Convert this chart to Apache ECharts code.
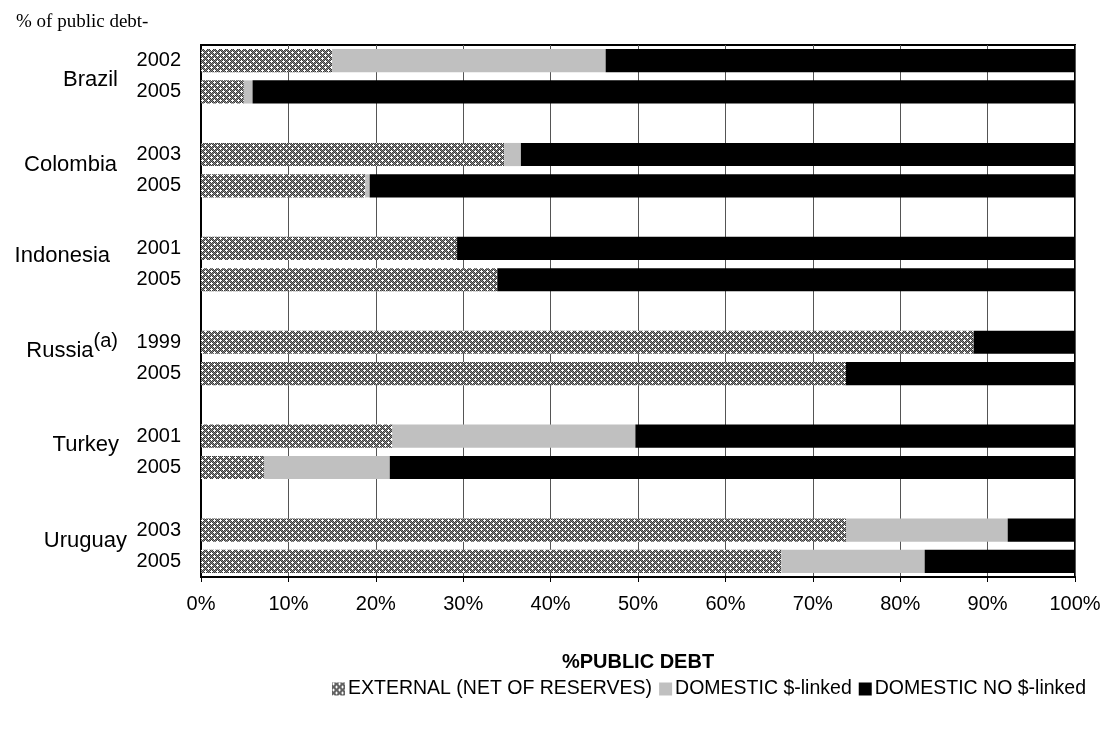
<!DOCTYPE html>
<html>
<head>
<meta charset="utf-8">
<script src="https://cdn.jsdelivr.net/npm/echarts@6/dist/echarts.min.js"></script>
<style>html,body{margin:0;padding:0;background:#fff}#c{width:1106px;height:729px}</style>
</head>
<body>
<div id="c"></div>
<script>
// ---- data ----
const countries = ['Brazil', 'Colombia', 'Indonesia', 'Russia', 'Turkey', 'Uruguay'];
const years = [['2002', '2005'], ['2003', '2005'], ['2001', '2005'], ['1999', '2005'], ['2001', '2005'], ['2003', '2005']];
const externalNet = [[15.0, 4.9], [34.7, 18.8], [29.3, 33.9], [88.4, 73.8], [21.9, 7.2], [73.8, 66.4]];
const domesticLinked = [[31.3, 1.0], [1.9, 0.5], [0, 0], [0, 0], [27.8, 14.4], [18.5, 16.4]];
const domesticNoLinked = [[53.7, 94.1], [63.4, 80.7], [70.7, 66.1], [11.6, 26.2], [50.3, 78.4], [7.7, 17.2]];
const xTickValues = [0, 10, 20, 30, 40, 50, 60, 70, 80, 90, 100];
const seriesNames = ['EXTERNAL (NET OF RESERVES)', 'DOMESTIC $-linked', 'DOMESTIC NO $-linked'];

// ---- build category rows (blank row between countries) ----
const cats = [], extData = [], linkData = [], noData = [], groupRows = [];
countries.forEach((c, i) => {
  if (i > 0) { cats.push('gap' + i); extData.push('-'); linkData.push('-'); noData.push('-'); }
  const rows = [];
  years[i].forEach((y, j) => {
    rows.push(cats.length);
    cats.push(c + '|' + y);
    extData.push(externalNet[i][j]);
    linkData.push(domesticLinked[i][j]);
    noData.push(domesticNoLinked[i][j]);
  });
  groupRows.push(rows);
});

// ---- hatched pattern for the external series ----
function makePattern() {
  const cv = document.createElement('canvas');
  cv.width = 6; cv.height = 6;
  const g = cv.getContext('2d');
  g.fillStyle = '#8a8a8a'; g.fillRect(0, 0, 6, 6);
  for (let y = 0; y < 6; y++) for (let x = 0; x < 6; x++) {
    if ((x + y) % 2 === 0) { g.fillStyle = '#3a3a3a'; g.fillRect(x, y, 1, 1); }
  }
  g.fillStyle = '#ffffff';
  [[1,1],[0,1],[2,1],[1,0],[1,2],[4,4],[3,4],[5,4],[4,3],[4,5]].forEach(p => g.fillRect(p[0], p[1], 1, 1));
  return cv;
}
const pattern = { image: makePattern(), repeat: 'repeat' };

const FONT = "'Liberation Sans', Arial, sans-serif";
const chart = echarts.init(document.getElementById('c'), null, { renderer: 'canvas' });
const option = {
  animation: false,
  backgroundColor: '#fff',
  title: {
    text: '% of public debt-', left: 11, top: 8,
    textStyle: { fontFamily: "'Liberation Serif', 'Times New Roman', serif", fontSize: 19, fontWeight: 'normal', color: '#000' }
  },
  grid: { left: 201, right: 31, top: 45, bottom: 152, show: true, borderColor: '#000', borderWidth: 2, containLabel: false },
  legend: {
    data: seriesNames, left: 332, top: 679, width: 1000, padding: 0, itemWidth: 13, itemHeight: 13, itemGap: 7,
    icon: 'rect',
    textStyle: { fontFamily: FONT, fontSize: 19.5, color: '#000', padding: [0, 0, 0, -2] }
  },
  xAxis: {
    type: 'value', min: 0, max: 100, interval: 10,
    name: '%PUBLIC DEBT', nameLocation: 'middle', nameGap: 75,
    nameTextStyle: { fontFamily: "'Liberation Sans Narrow', " + FONT, fontWeight: 'bold', fontSize: 20, color: '#000' },
    axisLine: { show: true, lineStyle: { color: '#000', width: 2 } },
    axisTick: { show: true, length: 5, lineStyle: { color: '#000' } },
    axisLabel: { formatter: v => xTickValues.includes(v) ? v + '%' : '', fontFamily: FONT, fontSize: 20, color: '#000', margin: 17 },
    splitLine: { show: true, lineStyle: { color: '#555', width: 1 } }
  },
  yAxis: {
    type: 'category', inverse: true, data: cats,
    axisLine: { show: true, lineStyle: { color: '#000', width: 2 } },
    axisTick: { show: false },
    axisLabel: { formatter: v => v.indexOf('|') >= 0 ? v.split('|')[1] : '', fontFamily: FONT, fontSize: 20, color: '#000', margin: 20 },
    splitLine: { show: false }
  },
  series: [
    { name: seriesNames[0], type: 'bar', stack: 'd', data: extData, barCategoryGap: '26%', itemStyle: { color: pattern } },
    { name: seriesNames[1], type: 'bar', stack: 'd', data: linkData, itemStyle: { color: '#c0c0c0' } },
    { name: seriesNames[2], type: 'bar', stack: 'd', data: noData, itemStyle: { color: '#000' } }
  ]
};
chart.setOption(option);

// country labels placed between their two rows
const labelRight = [118, 117, 110, 118, 119, 127];
const labelDy = [4, -5, -8, -7, -7, -5];
const graphics = countries.map((c, i) => {
  const y1 = chart.convertToPixel({ yAxisIndex: 0 }, cats[groupRows[i][0]]);
  const y2 = chart.convertToPixel({ yAxisIndex: 0 }, cats[groupRows[i][1]]);
  const isRussia = c === 'Russia';
  return {
    type: 'text',
    x: labelRight[i], y: (y1 + y2) / 2 + labelDy[i],
    style: {
      text: isRussia ? c + '{sup|(a)}' : c,
      fontFamily: FONT, fontSize: 22, fill: '#000',
      align: 'right', verticalAlign: 'middle',
      rich: { sup: { fontSize: 20, fontFamily: FONT, fill: '#000', padding: [0, 0, 18, 0], verticalAlign: 'bottom' } }
    }
  };
});
chart.setOption({ graphic: graphics });
</script>
</body>
</html>
